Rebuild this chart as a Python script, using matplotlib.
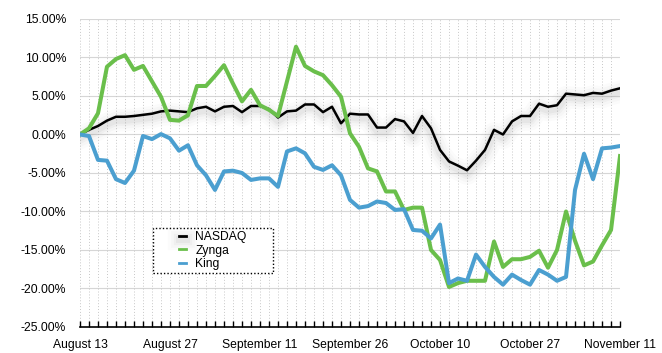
import matplotlib
matplotlib.use("Agg")
import matplotlib.pyplot as plt
import matplotlib.patheffects as pe
from matplotlib.patches import Rectangle
from matplotlib.ticker import FuncFormatter

# =========================
# data (% change since August 13)
# =========================
nasdaq = [0.0, 0.6, 1.1, 1.8, 2.3, 2.3, 2.4, 2.55, 2.7, 3.0,
          3.1, 3.0, 2.9, 3.4, 3.6, 3.0, 3.6, 3.7, 2.9, 3.7,
          3.7, 3.3, 2.2, 3.0, 3.1, 3.9, 3.9, 2.9, 3.6, 1.45,
          2.7, 2.6, 2.6, 0.9, 0.9, 2.0, 1.7, 0.2, 2.4, 0.8,
          -2.0, -3.5, -4.05, -4.65, -3.4, -2.0, 0.6, 0.0, 1.7, 2.4,
          2.4, 4.0, 3.6, 3.8, 5.3, 5.2, 5.1, 5.4, 5.3, 5.7,
          6.0]

zynga = [0.0, 0.8, 2.75, 8.8, 9.8, 10.3, 8.4, 8.9, 6.9, 4.9,
         1.9, 1.8, 2.5, 6.3, 6.3, 7.6, 9.0, 6.6, 4.3, 5.8,
         3.8, 3.2, 2.4, 6.9, 11.4, 8.9, 8.2, 7.7, 6.4, 4.9,
         0.15, -1.6, -4.4, -4.8, -7.4, -7.4, -9.8, -9.5, -9.5, -15.0,
         -16.3, -19.8, -19.3, -19.0, -19.0, -19.0, -13.9, -17.2, -16.2, -16.2,
         -15.9, -15.1, -17.3, -15.0, -10.0, -13.8, -17.0, -16.5, -14.4, -12.4,
         -2.8]

king = [0.0, -0.2, -3.3, -3.4, -5.8, -6.3, -4.7, -0.2, -0.6, 0.05,
        -0.5, -2.1, -1.4, -4.0, -5.3, -7.2, -4.8, -4.7, -5.0, -5.9,
        -5.7, -5.7, -6.8, -2.2, -1.8, -2.45, -4.2, -4.6, -4.0, -5.3,
        -8.5, -9.5, -9.3, -8.7, -8.9, -9.8, -9.7, -12.4, -12.5, -13.5,
        -11.7, -19.3, -18.7, -19.0, -15.6, -17.2, -18.5, -19.5, -18.2, -18.9,
        -19.5, -17.6, -18.2, -19.0, -18.5, -7.2, -2.5, -5.8, -1.8, -1.7,
        -1.5]

date_labels = ["August 13", "August 27", "September 11", "September 26",
               "October 10", "October 27", "November 11"]
label_every = 10


def main():
    plt.rcParams["font.family"] = ["Liberation Sans", "DejaVu Sans"]

    fig = plt.figure(figsize=(6.62, 3.53), dpi=100)
    ax = fig.add_axes([0.1208, 0.0737, 0.8158, 0.8725])

    x = list(range(len(nasdaq)))

    # =========================
    # grid
    # =========================
    for v in range(-20, 16, 5):
        ax.axhline(v, color="#d6d6d6", lw=0.8, zorder=0)
    for i in x:
        ax.axvline(i, color="#c8c8c8", lw=0.7, ls=(0, (1, 2)), zorder=0)

    # =========================
    # lines
    # =========================
    shadow = [pe.Stroke(linewidth=w, foreground="#808080", alpha=a, offset=(0, -2.5))
              for w, a in [(16, 0.03), (12, 0.04), (8, 0.06), (5, 0.08)]]
    ax.plot(x, nasdaq, color="black", lw=1.8, label="NASDAQ", zorder=3,
            path_effects=shadow + [pe.Normal()])
    ax.plot(x, zynga, color="#6abf4b", lw=2.9, label="Zynga", zorder=4)
    ax.plot(x, king, color="#4b9fd0", lw=2.9, label="King", zorder=5)

    # =========================
    # axes
    # =========================
    ax.set_xlim(0, len(x) - 1)
    ax.set_ylim(-25, 15)
    ax.set_yticks(range(-25, 16, 5))
    ax.yaxis.set_major_formatter(FuncFormatter(lambda v, p: f"{v:.2f}%"))

    labels = [""] * len(x)
    for k, lab in enumerate(date_labels):
        labels[k * label_every] = lab
    ax.set_xticks(x)
    ax.set_xticklabels(labels)

    for s in ["top", "right", "left"]:
        ax.spines[s].set_visible(False)
    ax.spines["bottom"].set_linewidth(1.2)
    ax.tick_params(axis="x", direction="in", length=4, width=1, pad=9,
                   labelsize=8.7, colors="black")
    ax.tick_params(axis="y", length=0, pad=10, labelsize=8.7)

    # =========================
    # legend
    # =========================
    box = Rectangle((0.135, 0.175), 0.222, 0.146, transform=ax.transAxes,
                    facecolor="white", edgecolor="black", lw=1, ls=(0, (1, 1.5)),
                    zorder=2)
    ax.add_patch(box)
    leg = ax.legend(loc="center", bbox_to_anchor=(0.246, 0.248), frameon=False,
                    fontsize=8.7, handlelength=0.55, handletextpad=0.8,
                    labelspacing=0.15, borderpad=0)
    leg.set_zorder(6)
    for line in leg.get_lines():
        line.set_linewidth(2)

    fig.savefig("out.png", dpi=100)


if __name__ == "__main__":
    main()
